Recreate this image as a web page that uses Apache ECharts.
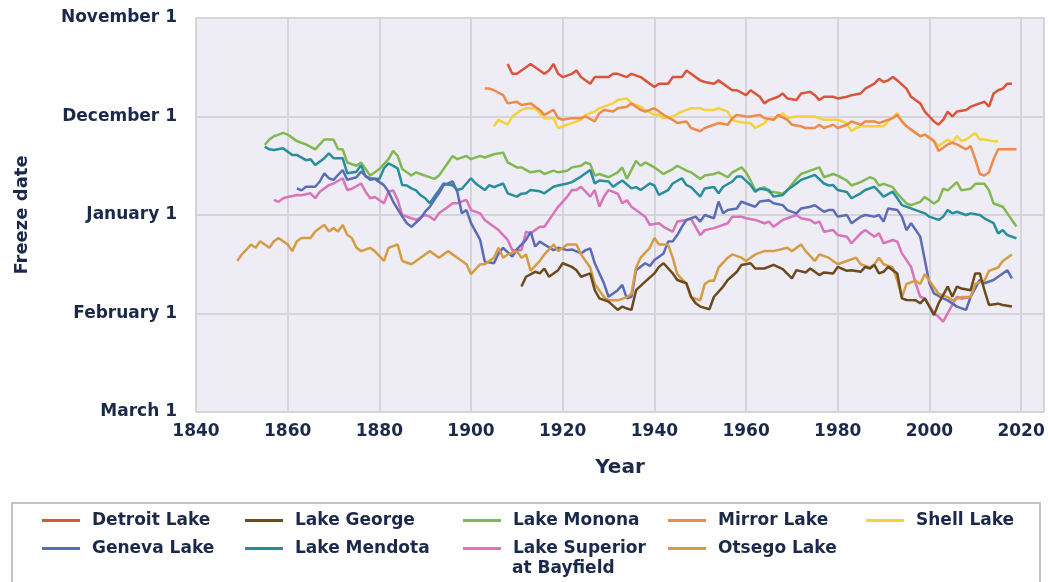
<!DOCTYPE html>
<html><head><meta charset="utf-8">
<script src="https://cdn.jsdelivr.net/npm/echarts@6/dist/echarts.min.js"></script>
<style>html,body{margin:0;padding:0;background:#fff}#c{width:1048px;height:582px}</style>
</head><body><div id="c"></div>
<script>
// y values: days after November 1 (one month = 30 units on the drawn scale)
const yTickLabels = ['November 1', 'December 1', 'January 1', 'February 1', 'March 1'];
const lakeNames = ['Detroit Lake', 'Lake George', 'Lake Monona', 'Mirror Lake', 'Shell Lake',
  'Geneva Lake', 'Lake Mendota', 'Lake Superior at Bayfield', 'Otsego Lake'];

const detroit = [[1908,14],[1909,17],[1910,17],[1912,15],[1913,14],[1914,15],[1916,17],[1917,16],[1918,14],[1919,17],[1920,18],[1922,17],[1923,16],[1924,18],[1926,20],[1927,18],[1929,18],[1930,18],[1931,17],[1932,17],[1934,18],[1935,17],[1937,18],[1938,19],[1940,21],[1941,20],[1943,20],[1944,18],[1946,18],[1947,16],[1948,17],[1950,19],[1951,19.5],[1953,20],[1954,19],[1956,21],[1957,22],[1958,22],[1960,23.5],[1961,22],[1963,24],[1964,26],[1965,25],[1967,24],[1968,23],[1969,24.5],[1971,25],[1972,23],[1974,22.5],[1975,23.5],[1976,25],[1977,24],[1979,24],[1980,24.5],[1982,24],[1983,23.5],[1985,23],[1986,21.5],[1988,20],[1989,18.5],[1990,19.5],[1991,19],[1992,18],[1993,19],[1995,21.5],[1996,24],[1998,26],[1999,28.5],[2001,31.5],[2002,32.5],[2003,31],[2004,28.5],[2005,30],[2006,28.5],[2008,28],[2009,27],[2011,26],[2012,25.5],[2013,27],[2014,23],[2015,22],[2016,21.5],[2017,20],[2018,20]];

const mirror = [[1903,21.5],[1904,21.5],[1905,22],[1907,23.5],[1908,26],[1910,25.5],[1911,26.5],[1913,26],[1915,28],[1916,29.5],[1918,28],[1919,30.5],[1920,31],[1922,30.5],[1924,30.5],[1925,30],[1927,31.5],[1928,29],[1929,28],[1931,28.5],[1932,27.5],[1934,27],[1935,26],[1937,28],[1938,28.5],[1940,27.5],[1941,28.5],[1942,29.5],[1944,31],[1945,32],[1947,31.5],[1948,33.5],[1950,34.5],[1951,33.5],[1953,32.5],[1954,32],[1956,32.5],[1957,30.5],[1958,29.5],[1960,30],[1961,30],[1963,29.5],[1964,30.5],[1966,31],[1967,29.5],[1969,31],[1970,32.5],[1972,33],[1973,33.5],[1975,33.5],[1976,32.5],[1977,33.5],[1978,33],[1979,32.5],[1980,33.5],[1982,32.5],[1983,31.5],[1985,32.5],[1986,31.5],[1988,31.5],[1989,32],[1990,31.5],[1992,30.5],[1993,29.5],[1994,31.5],[1995,33],[1996,34],[1998,36],[1999,35.5],[2001,37.5],[2002,40.5],[2003,39.5],[2004,38.5],[2005,38],[2006,38.5],[2008,40],[2009,39],[2010,43],[2011,47.5],[2012,48],[2013,47],[2014,43],[2015,40],[2017,40],[2019,40]];

const shell = [[1905,33],[1906,31],[1908,32.5],[1909,30],[1911,28],[1912,27.5],[1914,27.5],[1915,29],[1916,30.5],[1918,30.5],[1919,33.5],[1921,32.5],[1922,32],[1924,31],[1925,29.5],[1927,28.5],[1928,27.5],[1929,27],[1931,26],[1932,25],[1934,24.5],[1935,26],[1937,27],[1938,28],[1940,29.5],[1941,29.5],[1942,30.5],[1944,30],[1946,28.5],[1947,28],[1948,27.5],[1950,27.5],[1951,28],[1953,28],[1954,27.5],[1956,28.5],[1957,31],[1958,31.5],[1960,32],[1961,32],[1962,33.5],[1964,32],[1965,30.5],[1966,31],[1968,29],[1969,30.5],[1971,30],[1973,30],[1975,30],[1977,31],[1978,31],[1980,31],[1982,32],[1983,34.5],[1984,33.5],[1985,33],[1987,33],[1988,33],[1990,33],[1991,31.5],[1993,29],[1994,31.5],[1995,33],[1996,34],[1998,36],[1999,35.5],[2001,37.5],[2002,39],[2004,37],[2005,38],[2006,36],[2007,37.5],[2008,37],[2010,35],[2011,37],[2012,37],[2014,37.5],[2015,37.5]];

const monona = [[1855,38.7],[1856,37],[1857,36],[1858,35.5],[1859,35],[1860,35.5],[1862,37.5],[1863,38],[1864,38.5],[1866,40],[1867,38.5],[1868,37],[1870,37],[1871,40],[1872,40],[1873,44],[1875,45],[1876,44],[1877,46],[1878,48],[1879,47],[1880,46],[1882,43],[1883,40.5],[1884,42],[1885,46],[1887,48],[1888,47],[1889,47.5],[1890,48],[1892,49],[1893,48],[1895,44],[1896,42],[1897,43],[1899,42],[1900,43],[1902,42],[1903,42.5],[1905,41.5],[1907,41],[1908,44],[1910,45.5],[1911,45.5],[1913,47],[1915,46.5],[1916,47.5],[1918,46.5],[1919,47],[1921,46.5],[1922,45.5],[1924,45],[1925,44],[1926,44.5],[1927,48],[1928,47.5],[1930,48.5],[1932,47],[1933,45.5],[1934,49],[1936,43.5],[1937,45],[1938,44],[1940,45.5],[1941,46.5],[1942,47.5],[1944,46],[1945,45],[1947,46.5],[1948,47],[1950,49],[1951,48],[1953,47.5],[1954,47],[1956,48.5],[1957,47],[1959,45.5],[1960,47],[1961,49.5],[1962,52.5],[1964,51.5],[1965,53],[1966,53],[1968,53.5],[1969,52.5],[1971,49],[1972,47.5],[1974,46.5],[1976,45.5],[1977,48.5],[1979,47.5],[1980,48],[1982,49.5],[1983,51],[1985,50],[1987,48.5],[1988,49],[1989,51],[1990,50.5],[1992,51.5],[1993,53.5],[1995,56.5],[1996,57],[1998,56],[1999,54.5],[2001,56.5],[2002,55.5],[2003,52],[2004,52.5],[2006,50],[2007,52.5],[2009,52],[2010,50.5],[2012,50.5],[2013,52.5],[2014,56.5],[2016,57.5],[2017,59.5],[2019,63.5]];

const mendota = [[1855,39.2],[1856,40],[1857,40.2],[1859,39.7],[1860,40.7],[1861,41.7],[1862,41.7],[1864,43.3],[1865,43],[1866,44.8],[1868,42.7],[1869,41.2],[1870,42.7],[1872,42.7],[1873,47.3],[1875,46.8],[1876,44.8],[1877,48.3],[1878,48.8],[1880,49],[1881,45.8],[1882,44.3],[1884,45.8],[1885,50.9],[1886,51],[1887,51.9],[1888,52.5],[1889,54],[1890,54.9],[1891,56.4],[1892,54.4],[1893,52.5],[1894,50.4],[1896,51],[1897,52.4],[1898,52],[1900,48.8],[1901,50.4],[1903,52.4],[1904,50.9],[1905,51.5],[1907,50.4],[1908,53.4],[1910,54.4],[1911,53.5],[1912,53.4],[1913,52.4],[1915,52.8],[1916,53.4],[1918,51.4],[1919,51],[1921,50.4],[1922,50],[1924,48.3],[1925,47.3],[1926,46.3],[1927,50.4],[1928,49.5],[1930,49.8],[1931,51.4],[1932,50.4],[1933,49.5],[1935,51.9],[1936,51.5],[1937,52.4],[1939,50.4],[1940,51],[1941,53.9],[1943,52.4],[1944,50.4],[1946,48.8],[1947,50.9],[1948,51.5],[1950,54.4],[1951,51.9],[1953,51.5],[1954,53.4],[1955,51.4],[1957,49.8],[1958,48.3],[1959,48.3],[1961,50.9],[1962,52.9],[1963,52],[1965,52.4],[1966,54.4],[1968,53.9],[1969,52.4],[1971,50.4],[1972,49.3],[1974,48.3],[1975,47.8],[1977,50.4],[1978,51],[1979,50.9],[1980,52.4],[1982,53],[1983,54.9],[1985,53.4],[1986,52.4],[1988,51.4],[1989,52.9],[1990,54.4],[1992,52.9],[1993,54.9],[1994,57],[1996,58],[1997,58.5],[1999,59.5],[2000,60.5],[2002,61.5],[2003,60.5],[2004,58.5],[2005,59.5],[2006,59],[2008,60],[2009,59.5],[2011,60],[2012,61],[2014,62.5],[2015,65.6],[2016,64.6],[2017,66.1],[2019,67.1]];

const geneva = [[1862,51.9],[1863,52.5],[1864,51.4],[1866,51.4],[1867,49.8],[1868,47.3],[1869,48.8],[1870,49.3],[1872,46.3],[1873,49.3],[1875,48.5],[1876,46.8],[1878,49.3],[1879,49],[1881,50.9],[1882,52.9],[1883,55.9],[1885,60.5],[1886,62.5],[1887,63.6],[1889,61],[1890,59],[1891,57.5],[1892,55.4],[1893,53.4],[1894,51],[1895,50.4],[1896,49.8],[1897,52.9],[1898,59.5],[1899,58.5],[1900,62.5],[1902,67.6],[1903,74.2],[1905,74.7],[1906,71.7],[1907,70],[1909,72.7],[1910,70.5],[1912,67.6],[1913,65.1],[1914,69.6],[1915,68.1],[1916,69],[1918,70.7],[1919,70],[1921,70.7],[1922,70.5],[1924,71.7],[1925,70.7],[1926,70.2],[1927,74.7],[1929,80.8],[1930,84.9],[1932,82.9],[1933,81.3],[1934,85.4],[1935,84.9],[1936,76.8],[1938,74.7],[1939,75.5],[1940,73.7],[1942,71.7],[1943,68.1],[1944,68],[1945,66.1],[1946,63.6],[1947,61.5],[1949,60.5],[1950,62],[1951,60],[1953,61],[1954,55.9],[1955,59.5],[1956,58.5],[1958,58],[1959,55.9],[1960,56.5],[1962,57.5],[1963,55.9],[1965,55.5],[1966,56.4],[1968,57],[1969,58.5],[1971,59.5],[1972,58],[1974,57.5],[1975,57],[1977,59],[1978,58.5],[1979,58.5],[1980,60.5],[1982,60],[1983,62.5],[1985,60.5],[1986,60],[1988,60.5],[1989,60],[1990,62],[1991,58],[1993,58.5],[1994,60.5],[1995,64.6],[1996,62.5],[1998,66.6],[1999,73.7],[2000,80.8],[2001,83.9],[2003,85.4],[2004,86],[2006,87.9],[2008,88.9],[2009,84.9],[2011,79.8],[2012,80.8],[2014,79.8],[2015,78.8],[2017,76.8],[2018,79.3]];

const superior = [[1857,55.4],[1858,56],[1859,54.9],[1860,54.5],[1862,53.9],[1863,54],[1865,53.4],[1866,54.9],[1867,52.9],[1869,50.9],[1870,50.4],[1872,48.8],[1873,52.4],[1874,52],[1876,50.4],[1877,52.9],[1878,54.9],[1879,54.5],[1881,56.4],[1882,52.9],[1883,52.5],[1884,55.4],[1885,60],[1887,61],[1888,61.5],[1890,60],[1891,60.5],[1892,61.5],[1893,59.5],[1895,57.5],[1896,56.4],[1897,56.4],[1899,55.4],[1900,58.5],[1902,59.5],[1903,61.5],[1905,63.6],[1906,64.6],[1908,67.6],[1909,70.7],[1911,70.7],[1912,65.1],[1913,65.6],[1915,63.6],[1916,63.6],[1918,59.5],[1919,57.5],[1921,54.4],[1922,52.4],[1923,52.4],[1924,51.4],[1926,54.4],[1927,52.4],[1928,57.5],[1929,54.4],[1930,52.4],[1932,53.5],[1933,56.4],[1934,55.5],[1935,57.5],[1936,58.5],[1938,60.5],[1939,63],[1941,62.5],[1942,63.6],[1944,65.1],[1945,62],[1947,61.5],[1948,61.2],[1950,66.1],[1951,64.6],[1953,64],[1955,63],[1956,62.5],[1957,60.5],[1959,60.5],[1960,61],[1962,61.5],[1964,62.5],[1965,62],[1966,63.6],[1968,61.5],[1969,61],[1971,60],[1972,61],[1974,61.5],[1975,62.5],[1976,62],[1977,65.1],[1979,64.6],[1980,66.1],[1982,66.6],[1983,68.6],[1985,65.6],[1986,64.6],[1988,66.6],[1989,65.6],[1990,68.6],[1992,67.6],[1993,68.1],[1994,71.7],[1996,75.8],[1997,80.8],[1998,84.9],[1999,85.4],[2001,89.9],[2002,91],[2003,92.5],[2004,89.9],[2005,87.4],[2006,84.9],[2007,85.5],[2009,84.9],[2010,81.8],[2011,79.8]];

const otsego = [[1849,74],[1850,72],[1852,69],[1853,70],[1854,68],[1855,69],[1856,70],[1857,68],[1858,67],[1860,69],[1861,71],[1862,68],[1863,67],[1865,67],[1866,65],[1868,63],[1869,65],[1870,64],[1871,65],[1872,63],[1873,66],[1874,67],[1875,70],[1876,71],[1878,70],[1879,71],[1881,74],[1882,70],[1884,69],[1885,74],[1887,75],[1889,73],[1891,71],[1893,73],[1895,71],[1897,73],[1899,75],[1900,78],[1902,75],[1903,75],[1905,73],[1906,70],[1907,73],[1908,72],[1910,71],[1911,73],[1912,72],[1913,77],[1915,74],[1916,72],[1918,69],[1919,71],[1921,69],[1922,69],[1923,69],[1924,72],[1926,76],[1927,81],[1929,85],[1930,86],[1932,86],[1934,85],[1935,84],[1936,76],[1937,73],[1939,70],[1940,67],[1941,69],[1943,69],[1944,73],[1945,78],[1947,81],[1948,85],[1950,86],[1951,81],[1952,80],[1953,80],[1954,76],[1956,73],[1957,72],[1959,73],[1960,74],[1962,72],[1964,71],[1966,71],[1969,70],[1970,71],[1972,69],[1973,71],[1975,74],[1976,72],[1978,73],[1980,75],[1982,74],[1984,73],[1985,75],[1987,76],[1988,75],[1989,73],[1990,75],[1992,76],[1993,80],[1994,85],[1995,81],[1997,80],[1998,81],[1999,78],[2001,82],[2002,84],[2004,85],[2005,86],[2007,85],[2009,85],[2010,81],[2012,80],[2013,77],[2015,76],[2016,74],[2018,72]];

const george = [[1911,81.8],[1912,78.8],[1914,77.3],[1915,77.8],[1916,76.3],[1917,78.8],[1919,76.8],[1920,74.7],[1922,75.8],[1923,76.8],[1924,78.8],[1926,77.8],[1927,82.9],[1928,85.4],[1930,86.4],[1932,88.9],[1933,87.9],[1934,88.5],[1935,88.9],[1936,82.9],[1938,80.3],[1940,77.8],[1941,75.8],[1942,74.7],[1944,77.8],[1945,79.8],[1947,80.8],[1948,84.9],[1949,86.9],[1950,87.9],[1952,88.7],[1953,84.9],[1955,81.8],[1956,79.8],[1958,77.3],[1959,75.2],[1961,74.7],[1962,76.3],[1964,76.3],[1966,75.2],[1968,76.5],[1970,79.3],[1971,76.8],[1973,77.5],[1974,76.3],[1976,78.3],[1977,77.5],[1979,77.8],[1980,75.8],[1982,77],[1983,76.8],[1985,77.3],[1986,75.8],[1987,76.3],[1988,75.2],[1989,77.8],[1990,77.3],[1991,75.8],[1993,77.8],[1994,85.4],[1995,85.9],[1997,86],[1998,86.9],[1999,85.4],[2001,90.5],[2002,86.9],[2004,81.8],[2005,84.9],[2006,81.8],[2007,82.4],[2009,82.9],[2010,77.8],[2011,77.8],[2012,82.9],[2013,87.4],[2015,87],[2016,87.4],[2018,87.9]];

const FONT = 'DejaVu Sans';
const INK = '#1b2a4a';
const colors = {
  'Detroit Lake': '#d9553a', 'Lake George': '#6b4a1d', 'Lake Monona': '#82b852',
  'Mirror Lake': '#ef8a4c', 'Shell Lake': '#f4d23e', 'Geneva Lake': '#5c6bb6',
  'Lake Mendota': '#278f9b', 'Lake Superior at Bayfield': '#d874b8', 'Otsego Lake': '#d59c45'
};
const seriesData = {
  'Shell Lake': shell, 'Detroit Lake': detroit, 'Mirror Lake': mirror, 'Lake Monona': monona,
  'Lake Mendota': mendota, 'Lake Superior at Bayfield': superior, 'Geneva Lake': geneva,
  'Otsego Lake': otsego, 'Lake George': george
};

// legend layout: [name, left, top]
const legendPos = [
  ['Detroit Lake', 42, 512], ['Lake George', 245, 512], ['Lake Monona', 463, 512],
  ['Mirror Lake', 668, 512], ['Shell Lake', 866, 512],
  ['Geneva Lake', 42, 540], ['Lake Mendota', 245, 540], ['Lake Superior at Bayfield', 463, 540],
  ['Otsego Lake', 668, 540]
];

const chart = echarts.init(document.getElementById('c'), null, {renderer: 'canvas'});
chart.setOption({
  animation: false,
  backgroundColor: '#ffffff',
  grid: {left: 196, right: 4, top: 18, bottom: 170, show: true,
    backgroundColor: '#eeecf4', borderColor: '#cfcdd5', borderWidth: 1.5},
  xAxis: {
    type: 'value', min: 1840, max: 2025, interval: 20,
    name: 'Year', nameLocation: 'middle', nameGap: 46,
    nameTextStyle: {fontFamily: FONT, fontWeight: 'bold', fontSize: 20, color: INK},
    axisLine: {show: false}, axisTick: {show: false},
    axisLabel: {margin: 11, fontFamily: FONT, fontWeight: 'bold', fontSize: 17, color: INK,
      formatter: v => (v % 20 === 0 ? String(v) : '')},
    splitLine: {show: true, lineStyle: {color: '#d6d4db', width: 2}}
  },
  yAxis: {
    type: 'value', inverse: true, min: 0, max: 120, interval: 30,
    name: 'Freeze date', nameLocation: 'middle', nameGap: 165, nameRotate: 90,
    nameTextStyle: {fontFamily: FONT, fontWeight: 'bold', fontSize: 18, color: INK},
    axisLine: {show: false}, axisTick: {show: false},
    axisLabel: {margin: 19, fontFamily: FONT, fontWeight: 'bold', fontSize: 17, color: INK,
      formatter: v => yTickLabels[Math.round(v / 30)] || ''},
    splitLine: {show: true, lineStyle: {color: '#d6d4db', width: 2}}
  },
  legend: legendPos.map(([name, left, top]) => ({
    data: [name], left: left, top: top, padding: 0,
    icon: 'rect', itemWidth: 38, itemHeight: 3,
    textStyle: {fontFamily: FONT, fontWeight: 'bold', fontSize: 17, color: INK, padding: [0, 0, 0, 7]},
    formatter: n => (n === 'Lake Superior at Bayfield' ? 'Lake Superior' : n)
  })),
  graphic: [
    {type: 'rect', z: 0, shape: {x: 12, y: 503, width: 1028, height: 100},
      style: {fill: '#ffffff', stroke: '#c4c4c4', lineWidth: 2}},
    {type: 'text', z: 5, left: 512, top: 560,
      style: {text: 'at Bayfield', font: 'bold 17px "DejaVu Sans"', fill: INK}}
  ],
  series: Object.keys(seriesData).map(name => ({
    name: name, type: 'line', data: seriesData[name], symbol: 'none',
    color: colors[name],
    lineStyle: {width: 2.5, color: colors[name]},
    emphasis: {disabled: true}
  }))
});
</script>
</body></html>
